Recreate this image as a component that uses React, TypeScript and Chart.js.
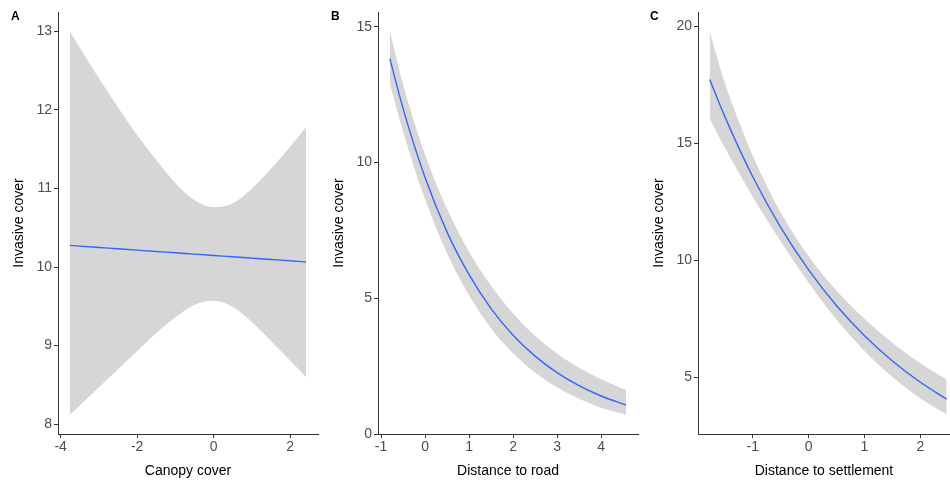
import React, { useEffect, useRef } from "react";
import { Chart, registerables } from "chart.js";

Chart.register(...registerables);

// ---------- Panel A: Canopy cover ----------
const canopyX = [-3.76, -3.5, -3, -2.5, -2, -1.5, -1, -0.5, 0, 0.5, 1, 1.5, 2, 2.42];
const canopyFit = [10.275, 10.266, 10.249, 10.232, 10.215, 10.198, 10.181, 10.164, 10.147, 10.13, 10.113, 10.096, 10.079, 10.065];
const canopyUpper = [13.0, 12.79, 12.4, 12.03, 11.68, 11.36, 11.07, 10.85, 10.76, 10.81, 11.0, 11.25, 11.53, 11.78];
const canopyLower = [8.12, 8.24, 8.47, 8.7, 8.93, 9.16, 9.36, 9.52, 9.57, 9.49, 9.3, 9.06, 8.81, 8.6];
const canopyXTicks = [-4, -2, 0, 2];
const canopyYTicks = [8, 9, 10, 11, 12, 13];

// ---------- Panel B: Distance to road ----------
const roadX = [-0.8, -0.5, 0, 0.5, 1, 1.5, 2, 2.5, 3, 3.5, 4, 4.57];
const roadFit = [13.83, 11.99, 9.45, 7.44, 5.87, 4.62, 3.64, 2.87, 2.26, 1.78, 1.4, 1.07];
const roadUpper = [14.83, 12.89, 10.3, 8.3, 6.72, 5.46, 4.44, 3.62, 2.97, 2.44, 2.02, 1.62];
const roadLower = [12.9, 11.14, 8.65, 6.66, 5.11, 3.9, 2.98, 2.27, 1.72, 1.3, 0.97, 0.71];
const roadXTicks = [-1, 0, 1, 2, 3, 4];
const roadYTicks = [0, 5, 10, 15];

// ---------- Panel C: Distance to settlement ----------
const settleX = [-1.77, -1.5, -1, -0.5, 0, 0.5, 1, 1.5, 2, 2.47];
const settleFit = [17.73, 16.14, 13.57, 11.41, 9.59, 8.06, 6.78, 5.7, 4.79, 4.07];
const settleUpper = [19.77, 17.59, 14.48, 12.04, 10.17, 8.7, 7.5, 6.48, 5.6, 4.91];
const settleLower = [16.05, 14.81, 12.72, 10.81, 9.04, 7.46, 6.13, 5.01, 4.1, 3.42];
const settleXTicks = [-1, 0, 1, 2];
const settleYTicks = [5, 10, 15, 20];

const FONT = '"Liberation Sans", Arial, Helvetica, sans-serif';
const AXIS_COLOR = "#333333";
const TICK_COLOR = "#4d4d4d";
const BAND_COLOR = "#d6d6d6";
const LINE_COLOR = "#3366ff";

type PanelProps = {
  left: number;
  width: number;
  padRight: number;
  xs: number[];
  fit: number[];
  upper: number[];
  lower: number[];
  xTicks: number[];
  yTicks: number[];
  xMin: number;
  xMax: number;
  yMin: number;
  yMax: number;
  xTitle: string;
  label: string;
  labelLeft: number;
};

function Panel(p: PanelProps) {
  const ref = useRef<HTMLCanvasElement | null>(null);
  useEffect(() => {
    if (!ref.current) return;
    const pts = (ys: number[]) => p.xs.map((x, i) => ({ x, y: ys[i] }));
    const chart = new Chart(ref.current, {
      type: "line",
      data: {
        datasets: [
          {
            data: pts(p.fit),
            borderColor: LINE_COLOR,
            borderWidth: 1.4,
            pointRadius: 0,
            fill: false,
            cubicInterpolationMode: "monotone",
          },
          {
            data: pts(p.upper),
            borderWidth: 0,
            borderColor: "rgba(0,0,0,0)",
            backgroundColor: BAND_COLOR,
            pointRadius: 0,
            fill: "+1",
            cubicInterpolationMode: "monotone",
          },
          {
            data: pts(p.lower),
            borderWidth: 0,
            borderColor: "rgba(0,0,0,0)",
            pointRadius: 0,
            fill: false,
            cubicInterpolationMode: "monotone",
          },
        ],
      },
      options: {
        responsive: false,
        animation: false,
        devicePixelRatio: 1,
        layout: { padding: { top: 12, right: p.padRight, left: 0, bottom: 0 } },
        plugins: { legend: { display: false }, tooltip: { enabled: false } },
        scales: {
          x: {
            type: "linear",
            min: p.xMin,
            max: p.xMax,
            afterBuildTicks: (axis: any) => {
              axis.ticks = p.xTicks.map((v) => ({ value: v }));
            },
            afterFit: (axis: any) => {
              axis.height = 47;
            },
            ticks: {
              color: TICK_COLOR,
              font: { family: FONT, size: 14, lineHeight: 1.2 },
              padding: 1,
              maxRotation: 0,
              autoSkip: false,
              callback: (v: any) => String(v),
            },
            grid: {
              display: true,
              drawOnChartArea: false,
              drawTicks: true,
              tickLength: 4,
              color: AXIS_COLOR,
            },
            border: { display: true, color: AXIS_COLOR, width: 1 },
            title: {
              display: true,
              text: p.xTitle,
              color: "#000000",
              font: { family: FONT, size: 14, lineHeight: 1.2 },
              padding: { top: 0, bottom: 1 },
            },
          },
          y: {
            type: "linear",
            min: p.yMin,
            max: p.yMax,
            afterBuildTicks: (axis: any) => {
              axis.ticks = p.yTicks.map((v) => ({ value: v }));
            },
            afterFit: (axis: any) => {
              axis.width = 58;
            },
            ticks: {
              color: TICK_COLOR,
              font: { family: FONT, size: 14, lineHeight: 1.2 },
              padding: 2,
              autoSkip: false,
              callback: (v: any) => String(v),
            },
            grid: {
              display: true,
              drawOnChartArea: false,
              drawTicks: true,
              tickLength: 4,
              color: AXIS_COLOR,
            },
            border: { display: true, color: AXIS_COLOR, width: 1 },
            title: {
              display: true,
              text: "Invasive cover",
              color: "#000000",
              font: { family: FONT, size: 14, lineHeight: 1.2 },
              padding: { top: 11, bottom: 0 },
            },
          },
        },
      },
    } as any);
    return () => chart.destroy();
  }, []);
  return (
    <>
      <canvas
        ref={ref}
        width={p.width}
        height={481}
        style={{ position: "absolute", left: p.left, top: 0, width: p.width, height: 481 }}
      />
      <div
        style={{
          position: "absolute",
          left: p.labelLeft,
          top: 9,
          font: `bold 12px ${FONT}`,
          lineHeight: "14px",
          color: "#000",
        }}
      >
        {p.label}
      </div>
    </>
  );
}

export default function App() {
  return (
    <div
      style={{
        position: "fixed",
        left: 0,
        top: 0,
        width: 950,
        height: 481,
        background: "#ffffff",
        overflow: "hidden",
      }}
    >
      <Panel
        left={0}
        width={320}
        padRight={2}
        xs={canopyX}
        fit={canopyFit}
        upper={canopyUpper}
        lower={canopyLower}
        xTicks={canopyXTicks}
        yTicks={canopyYTicks}
        xMin={-4.07}
        xMax={2.73}
        yMin={7.876}
        yMax={13.244}
        xTitle="Canopy cover"
        label="A"
        labelLeft={11}
      />
      <Panel
        left={320}
        width={320}
        padRight={2}
        xs={roadX}
        fit={roadFit}
        upper={roadUpper}
        lower={roadLower}
        xTicks={roadXTicks}
        yTicks={roadYTicks}
        xMin={-1.07}
        xMax={4.84}
        yMin={0}
        yMax={15.55}
        xTitle="Distance to road"
        label="B"
        labelLeft={331}
      />
      <Panel
        left={640}
        width={310}
        padRight={0}
        xs={settleX}
        fit={settleFit}
        upper={settleUpper}
        lower={settleLower}
        xTicks={settleXTicks}
        yTicks={settleYTicks}
        xMin={-1.98}
        xMax={2.53}
        yMin={2.58}
        yMax={20.61}
        xTitle="Distance to settlement"
        label="C"
        labelLeft={650}
      />
    </div>
  );
}
